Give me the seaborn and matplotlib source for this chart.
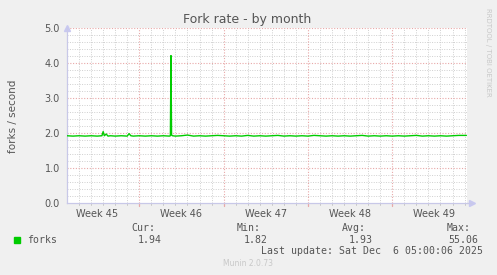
import numpy as np
import pandas as pd
import matplotlib
matplotlib.use("Agg")
import matplotlib.pyplot as plt
import seaborn as sns

# ---- data (days from left edge of the graph, forks per second) ----
day = [0.0, 0.5, 1.0, 1.5, 2.0, 2.5, 2.9, 3.0, 3.1, 3.25, 3.4, 3.6, 4.0, 4.5, 5.0,
       5.15, 5.3, 5.5, 6.0, 6.5, 7.0, 7.5, 8.0, 8.5, 8.58, 8.63, 8.68, 8.75, 9.0,
       9.5, 10.0, 10.5, 11.0, 11.5, 12.0, 12.5, 13.0, 13.5, 14.0, 14.5, 15.0,
       15.5, 16.0, 16.5, 17.0, 17.5, 18.0, 18.5, 19.0, 19.5, 20.0, 20.5, 21.0,
       21.5, 22.0, 22.5, 23.0, 23.5, 24.0, 24.5, 25.0, 25.5, 26.0, 26.5, 27.0,
       27.5, 28.0, 28.5, 29.0, 29.5, 30.0, 30.5, 31.0, 31.5, 32.0, 32.5, 33.15]
forks = [1.93, 1.92, 1.93, 1.92, 1.93, 1.92, 1.93, 2.05, 1.93, 1.98, 1.92, 1.93, 1.92, 1.93, 1.92,
         1.99, 1.93, 1.92, 1.93, 1.92, 1.93, 1.92, 1.93, 1.92, 1.93, 4.22, 1.95, 1.93, 1.92,
         1.93, 1.95, 1.92, 1.93, 1.92, 1.93, 1.94, 1.93, 1.92, 1.93, 1.92, 1.94,
         1.92, 1.93, 1.92, 1.93, 1.94, 1.92, 1.93, 1.92, 1.93, 1.92, 1.94, 1.93,
         1.92, 1.93, 1.92, 1.93, 1.92, 1.93, 1.94, 1.92, 1.93, 1.92, 1.93, 1.92,
         1.93, 1.92, 1.93, 1.94, 1.92, 1.93, 1.92, 1.93, 1.92, 1.93, 1.94, 1.94]

week_starts = [6, 13, 20, 27]
week_label_pos = [2.5, 9.5, 16.5, 23.5, 30.5]
week_labels = ["Week 45", "Week 46", "Week 47", "Week 48", "Week 49"]
y_ticks = [0.0, 1.0, 2.0, 3.0, 4.0, 5.0]

legend_name = "forks"
stat_names = ["Cur:", "Min:", "Avg:", "Max:"]
stat_values = ["1.94", "1.82", "1.93", "55.06"]
last_update = "Last update: Sat Dec  6 05:00:06 2025"

df = pd.DataFrame({"day": day, "forks": forks})

sns.set_theme(style="white")
plt.rcParams["font.family"] = ["DejaVu Sans"]

W, H = 497, 275
fig = plt.figure(figsize=(W / 100, H / 100), dpi=100, facecolor="#F0F0F0")
ax = fig.add_axes([67 / W, 1 - 203.3 / H, 400 / W, 175 / H])
ax.set_facecolor("white")

sns.lineplot(data=df, x="day", y="forks", ax=ax, color="#00CC00", linewidth=1.0, zorder=5)

ax.set_xlim(0, 33.2)
ax.set_ylim(0, 5.0)

# grid
minor_col = "#CFCFCF"
major_col = "#E8A8A8"
minor_days = [d for d in np.arange(1, 33.2, 1) if d not in week_starts]
for d in minor_days:
    ax.axvline(d, color=minor_col, lw=0.7, ls=(0, (1, 1.5)), zorder=1)
for d in week_starts:
    ax.axvline(d, color=major_col, lw=0.8, ls=(0, (1, 1.5)), zorder=2)
for yv in np.arange(0.2, 5.0, 0.2):
    if abs(yv - round(yv)) > 1e-6:
        ax.axhline(yv, color=minor_col, lw=0.7, ls=(0, (1, 1.5)), zorder=1)
for yv in y_ticks[1:]:
    ax.axhline(yv, color=major_col, lw=0.8, ls=(0, (1, 1.5)), zorder=2)

for s in ["top", "right"]:
    ax.spines[s].set_visible(False)
for s in ["left", "bottom"]:
    ax.spines[s].set_color("#C8C8E8")
    ax.spines[s].set_linewidth(0.9)

ax.set_yticks(y_ticks)
ax.set_yticklabels([f"{v:.1f}" for v in y_ticks])
ax.set_xticks(week_label_pos)
ax.set_xticklabels(week_labels)
ax.tick_params(axis="both", labelsize=7, colors="#555555", length=0, pad=4)
ax.tick_params(axis="y", length=2, color="#C8C8C8", pad=3)
ax.set_xlabel("")
ax.set_ylabel("")

# arrows at axis ends
ax.plot([0], [1.0], marker="^", ms=4, color="#C8C8F0", transform=ax.transAxes, clip_on=False)
ax.plot([1.012], [0], marker=">", ms=4, color="#C8C8F0", transform=ax.transAxes, clip_on=False)
ax.plot([1.0, 1.012], [0, 0], color="#C8C8E8", lw=0.9, transform=ax.transAxes, clip_on=False)

# tick marks below x axis
for d in minor_days:
    ax.plot([d, d], [0, -0.05], color="#C8C8C8", lw=0.7, clip_on=False)
for d in week_starts:
    ax.plot([d, d], [0, -0.08], color=major_col, lw=0.9, clip_on=False)

txt = "#555555"
fig.text(247 / W, 1 - 19 / H, "Fork rate - by month", ha="center", va="center", fontsize=9, color=txt)
fig.text(13 / W, 1 - 116 / H, "forks / second", ha="center", va="center", rotation=90, fontsize=7.5, color=txt)
fig.text(488 / W, 1 - 52 / H, "RRDTOOL / TOBI OETIKER", ha="center", va="center", rotation=270,
         fontsize=5, color="#C8C8C8")

mono = "DejaVu Sans Mono"
fig.patches.append(plt.Rectangle((14 / W, 1 - 243 / H), 6 / W, 6 / H, color="#00CC00",
                                 transform=fig.transFigure, figure=fig))
fig.text(27 / W, 1 - 240 / H, legend_name, ha="left", va="center", fontsize=7.1, family=mono, color=txt)
name_right = [155, 261, 366, 471]
val_right = [162, 268, 373, 478]
for n, v, nr, vr in zip(stat_names, stat_values, name_right, val_right):
    fig.text(nr / W, 1 - 228 / H, n, ha="right", va="center", fontsize=7.1, family=mono, color=txt)
    fig.text(vr / W, 1 - 240 / H, v, ha="right", va="center", fontsize=7.1, family=mono, color=txt)
fig.text(483 / W, 1 - 251 / H, last_update, ha="right", va="center", fontsize=7.1, family=mono, color=txt)
fig.text(248 / W, 1 - 264 / H, "Munin 2.0.73", ha="center", va="center", fontsize=5.5, color="#C8C8C8")

fig.savefig("out.png", dpi=100, facecolor=fig.get_facecolor())
